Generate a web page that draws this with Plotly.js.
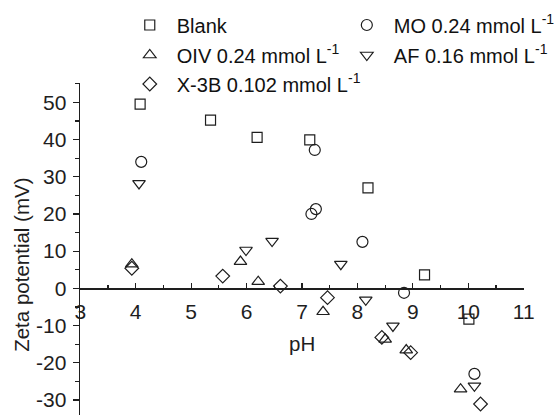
<!DOCTYPE html>
<html>
<head>
<meta charset="utf-8">
<script src="https://cdn.plot.ly/plotly-3.0.1.min.js"></script>
<style>html,body{margin:0;padding:0;background:#fff;}#chart{width:560px;height:415px;}</style>
</head>
<body>
<div id="chart"></div>
<script>
// ---- data ----
const seriesNames = ['Blank', 'OIV 0.24 mmol L<sup>-1</sup>', 'X-3B 0.102 mmol L<sup>-1</sup>', 'MO 0.24 mmol L<sup>-1</sup>', 'AF 0.16 mmol L<sup>-1</sup>'];
const phBlank = [4.08, 5.35, 6.19, 7.14, 8.19, 9.21, 10.01];
const zetaBlank = [49.5, 45.2, 40.6, 39.9, 27.0, 3.6, -8.3];
const phMO = [4.10, 7.23, 7.25, 7.17, 8.09, 8.84, 10.11];
const zetaMO = [34.0, 37.2, 21.3, 20.0, 12.5, -1.2, -23.0];
const phOIV = [3.93, 5.89, 6.21, 7.38, 8.50, 8.88, 9.86];
const zetaOIV = [6.5, 7.2, 1.8, -6.3, -13.7, -16.6, -27.1];
const phAF = [4.06, 5.99, 6.46, 7.70, 8.15, 8.64, 10.11];
const zetaAF = [28.2, 10.3, 12.7, 6.5, -3.1, -10.1, -26.2];
const phX3B = [3.93, 5.57, 6.61, 7.46, 8.44, 8.96, 10.22];
const zetaX3B = [5.4, 3.3, 0.6, -2.5, -13.2, -17.3, -31.1];
const xTickVals = [3, 4, 5, 6, 7, 8, 9, 10, 11];
const yTickVals = [-30, -20, -10, 0, 10, 20, 30, 40, 50];

// ---- layout helpers ----
const W = 560, H = 415;
const FONT = 'Liberation Sans, Arial, sans-serif';
const INK = '#1e1e1e';
const xRange = [3, 11];
const yRange = [-34.05, 55.2];
const xDom = [81.7 / W, 533.3 / W];
const yDom = [0, 1 - 83 / H];
const zeroPos = yDom[0] + (0 - yRange[0]) / (yRange[1] - yRange[0]) * (yDom[1] - yDom[0]);
const px = v => v / W;
const py = v => 1 - v / H;

function mk(x, y, name, symbol, size, legend) {
  return {
    x: x, y: y, name: name, type: 'scatter', mode: 'markers',
    legend: legend,
    marker: {symbol: symbol, size: size, color: INK, line: {color: INK, width: 1.2}},
    hoverinfo: 'x+y'
  };
}

const traces = [
  mk(phBlank, zetaBlank, seriesNames[0], 'square-open', 10, 'legend'),
  mk(phOIV, zetaOIV, seriesNames[1], 'triangle-up-open', 11, 'legend2'),
  mk(phX3B, zetaX3B, seriesNames[2], 'diamond-open', 10.5, 'legend3'),
  mk(phMO, zetaMO, seriesNames[3], 'circle-open', 11, 'legend4'),
  mk(phAF, zetaAF, seriesNames[4], 'triangle-down-open', 11, 'legend5')
];

function leg(xc, yc) {
  return {
    x: px(xc), y: py(yc), xanchor: 'left', yanchor: 'middle',
    xref: 'paper', yref: 'paper',
    bgcolor: 'rgba(0,0,0,0)', borderwidth: 0,
    font: {family: FONT, size: 20, color: '#111'},
    itemwidth: 44, itemclick: false, itemdoubleclick: false
  };
}

const layout = {
  width: W, height: H,
  margin: {l: 0, r: 0, t: 0, b: 0, pad: 0},
  paper_bgcolor: '#fff', plot_bgcolor: '#fff',
  font: {family: FONT, color: INK},
  showlegend: true,
  legend: leg(125, 25),
  legend2: leg(125, 55),
  legend3: leg(125, 84),
  legend4: leg(346, 25),
  legend5: leg(346, 55),
  xaxis: {
    domain: xDom, range: xRange, anchor: 'free', position: zeroPos,
    tickmode: 'array', tickvals: xTickVals, ticktext: xTickVals.map(String),
    ticks: 'inside', ticklen: 5, tickwidth: 1.2, tickcolor: INK,
    minor: {ticks: 'inside', dtick: 0.5, tick0: 3, ticklen: 3.5, tickwidth: 1.2, tickcolor: INK},
    showline: true, linecolor: INK, linewidth: 1.2,
    showgrid: false, zeroline: false,
    tickfont: {family: FONT, size: 21, color: INK},
    ticklabelstandoff: 4
  },
  yaxis: {
    domain: yDom, range: yRange, anchor: 'x',
    tickmode: 'array', tickvals: yTickVals, ticktext: yTickVals.map(String),
    ticks: 'outside', ticklen: 6.5, tickwidth: 1.2, tickcolor: INK,
    minor: {ticks: 'outside', dtick: 5, tick0: 0, ticklen: 4, tickwidth: 1.2, tickcolor: INK},
    showline: true, linecolor: INK, linewidth: 1.2,
    showgrid: false, zeroline: false,
    tickfont: {family: FONT, size: 21, color: INK},
    ticklabelstandoff: 2
  },
  annotations: [
    {text: 'Zeta potential (mV)', textangle: -90, x: px(21.7), y: py(264.5),
     xref: 'paper', yref: 'paper', xanchor: 'center', yanchor: 'middle', showarrow: false,
     font: {family: FONT, size: 20.5, color: INK}},
    {text: 'pH', x: px(307.5), y: py(343), xref: 'paper', yref: 'paper',
     xanchor: 'center', yanchor: 'middle', showarrow: false,
     font: {family: FONT, size: 20.5, color: INK}}
  ]
};

Plotly.newPlot('chart', traces, layout, {displayModeBar: false, staticPlot: true});
</script>
</body>
</html>
